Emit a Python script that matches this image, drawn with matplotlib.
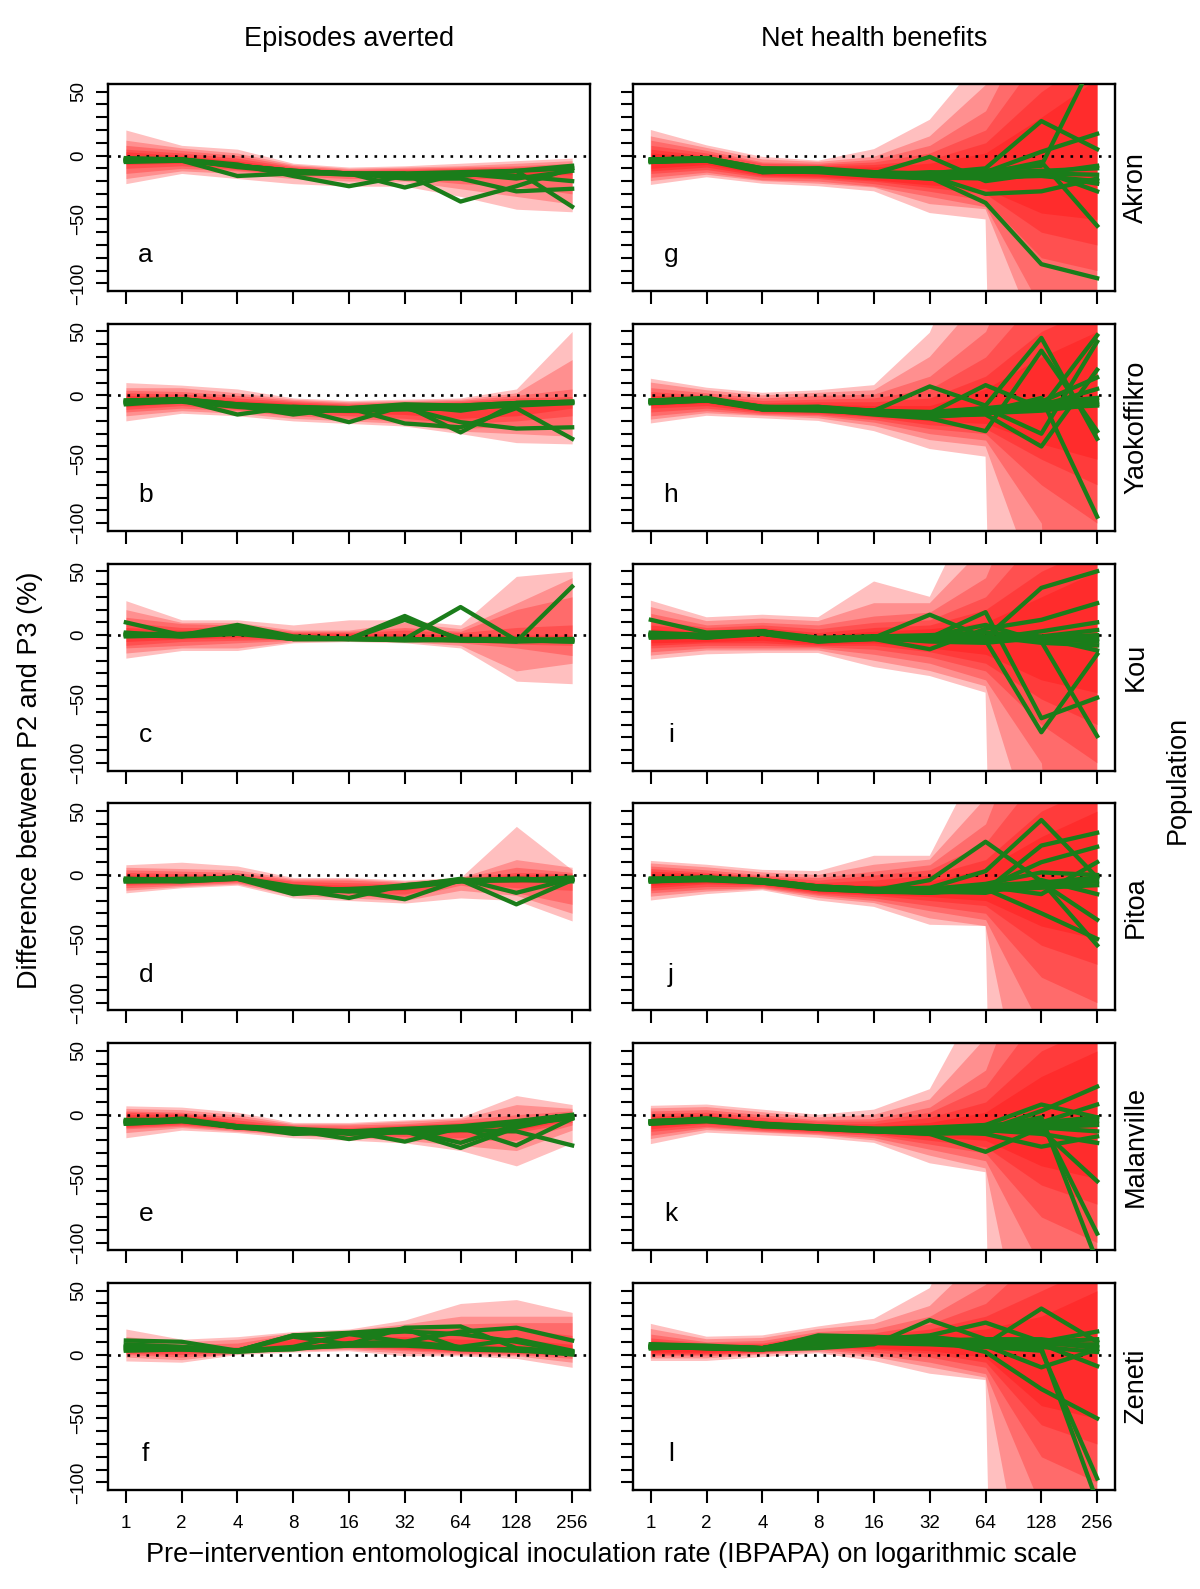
import numpy as np
from matplotlib import pyplot as plt
from matplotlib.ticker import NullLocator

plt.rcParams['font.family'] = ['Liberation Sans', 'DejaVu Sans']

# pre-intervention EIR (x axis, log2 scale)
eir = [1, 2, 4, 8, 16, 32, 64, 128, 256]

populations = ['Akron', 'Yaokoffikro', 'Kou', 'Pitoa', 'Malanville', 'Zeneti']
col_titles = ['Episodes averted', 'Net health benefits']
letters_left = ['a', 'b', 'c', 'd', 'e', 'f']
letters_right = ['g', 'h', 'i', 'j', 'k', 'l']

# ---- left column: episodes averted ----
# green lines (one per scenario)
lines_a = [[-3, -3, -8, -12, -14, -14, -13, -12, -10],
           [-5, -4, -16, -14, -14, -16, -16, -12, -8],
           [-4, -3, -7, -16, -24, -16, -14, -16, -20],
           [-2, -3, -8, -12, -14, -25, -14, -18, -12],
           [-4, -4, -8, -12, -14, -14, -36, -24, -10],
           [-3, -4, -8, -12, -14, -18, -18, -28, -26],
           [-4, -3, -9, -13, -15, -15, -14, -12, -40]]
# red uncertainty polygons (lower / upper), widest first
lo_a = [[-22, -14, -18, -22, -24, -24, -32, -42, -44],
        [-18, -12, -14, -18, -20, -20, -26, -32, -38],
        [-14, -10, -12, -16, -18, -18, -22, -24, -30],
        [-10, -8, -11, -15, -16, -17, -18, -18, -20],
        [-7, -6, -10, -14, -15, -16, -16, -15, -15]]
hi_a = [[20, 8, 5, -6, -9, -8, -6, -4, -2],
        [12, 6, 2, -7, -10, -9, -8, -6, -4],
        [8, 4, 0, -8, -11, -10, -9, -8, -6],
        [5, 2, -2, -9, -12, -11, -10, -9, -7],
        [3, 0, -4, -10, -13, -12, -11, -10, -8]]

lines_b = [[-5, -3, -7, -9, -10, -7, -8, -6, -5],
           [-7, -4, -15, -9, -11, -8, -8, -6, -6],
           [-4, -3, -8, -15, -10, -8, -12, -6, -5],
           [-6, -4, -8, -10, -21, -8, -29, -6, -5],
           [-5, -3, -8, -11, -10, -22, -25, -10, -34],
           [-4, -3, -7, -10, -12, -10, -21, -26, -25],
           [-6, -5, -9, -12, -12, -11, -10, -8, -6]]
lo_b = [[-20, -14, -16, -20, -22, -24, -30, -37, -38],
        [-16, -12, -14, -18, -20, -22, -28, -30, -32],
        [-13, -10, -12, -16, -18, -20, -26, -24, -25],
        [-11, -8, -11, -14, -16, -18, -22, -20, -16],
        [-9, -6, -10, -12, -14, -15, -18, -16, -10]]
hi_b = [[10, 8, 5, -2, -4, -3, -2, 5, 50],
        [6, 6, 2, -3, -5, -4, -3, 2, 28],
        [4, 3, 0, -4, -6, -5, -4, 0, 5],
        [2, 1, -2, -5, -7, -6, -5, -2, -1],
        [0, -1, -4, -6, -8, -7, -6, -4, -3]]

lines_c = [[0, 0, 2, -3, -3, -3, -4, -4, -4],
           [10, 0, 8, -1, -3, -4, -4, -4, -5],
           [2, -1, 5, -2, -3, 15, -4, -4, -3],
           [1, 0, 3, -3, -3, 12, -3, -5, -4],
           [0, -1, 1, -3, -3, -3, 22, -4, -5],
           [-1, 0, 2, -2, -3, -3, -4, -5, 38],
           [1, 1, 3, -3, -3, -4, -3, -3, -4]]
lo_c = [[-18, -12, -12, -6, -5, -6, -10, -36, -38],
        [-14, -10, -10, -5, -4, -5, -8, -28, -22],
        [-10, -8, -6, -4, -4, -4, -6, -10, -16],
        [-8, -5, -4, -3, -3, -4, -5, -7, -8],
        [-5, -3, -2, -2, -2, -3, -4, -5, -6]]
hi_c = [[27, 12, 12, 8, 12, 12, 8, 46, 50],
        [20, 10, 10, 4, 4, 10, 5, 25, 45],
        [14, 9, 8, 3, 3, 6, 3, 20, 30],
        [10, 6, 6, 2, 2, 4, 2, 6, 8],
        [6, 4, 4, 1, 1, 1, 0, 0, 0]]

lines_d = [[-4, -4, -2, -10, -12, -8, -4, -3, -4],
           [-5, -5, -3, -15, -12, -9, -4, -4, -3],
           [-3, -4, -2, -11, -18, -8, -5, -3, -4],
           [-4, -3, -3, -10, -12, -19, -4, -4, -5],
           [-5, -4, -2, -12, -11, -9, -3, -14, -3],
           [-3, -5, -3, -10, -13, -9, -4, -23, -4],
           [-4, -4, -2, -9, -12, -10, -5, -4, -2]]
lo_d = [[-14, -10, -8, -18, -20, -22, -18, -20, -36],
        [-12, -9, -7, -16, -18, -20, -12, -16, -30],
        [-10, -8, -6, -14, -16, -18, -8, -14, -23],
        [-8, -7, -5, -13, -14, -15, -6, -10, -12],
        [-7, -6, -4, -12, -13, -12, -5, -6, -6]]
hi_d = [[8, 10, 7, -2, -2, -4, -2, 38, 4],
        [6, 5, 4, -3, -3, -5, -2, 12, 6],
        [4, 3, 2, -4, -4, -6, -2, 6, 2],
        [2, 1, 0, -5, -6, -7, -3, 2, 1],
        [0, -1, -1, -7, -8, -8, -3, 0, 0]]

lines_e = [[-6, -4, -10, -12, -14, -12, -10, -6, -2],
           [-7, -5, -9, -15, -14, -13, -11, -7, -3],
           [-5, -4, -10, -12, -19, -12, -22, -8, -2],
           [-6, -3, -9, -13, -13, -21, -10, -24, -3],
           [-4, -4, -10, -11, -15, -13, -26, -10, -1],
           [-7, -5, -10, -12, -14, -14, -12, -13, -24],
           [-5, -4, -9, -11, -13, -11, -9, -5, 0]]
lo_e = [[-18, -12, -14, -18, -20, -22, -28, -40, -22],
        [-14, -10, -13, -16, -18, -20, -24, -28, -12],
        [-11, -9, -12, -15, -17, -19, -20, -20, -8],
        [-10, -8, -11, -14, -16, -17, -18, -14, -6],
        [-9, -7, -11, -13, -15, -15, -14, -12, -4]]
hi_e = [[7, 6, 2, -6, -6, -4, -2, 15, 8],
        [5, 4, 0, -7, -7, -5, -3, 8, 5],
        [3, 2, -2, -8, -8, -7, -4, 0, 3],
        [2, 1, -4, -9, -10, -8, -6, -3, 1],
        [0, 0, -6, -10, -11, -9, -7, -5, 0]]

lines_f = [[4, 4, 3, 5, 7, 8, 4, 3, 1],
           [11, 10, 3, 15, 17, 20, 5, 4, 1],
           [5, 5, 3, 14, 8, 21, 22, 5, 2],
           [6, 6, 3, 6, 16, 10, 18, 21, 11],
           [7, 5, 3, 4, 9, 10, 6, 12, 3],
           [3, 4, 2, 5, 7, 7, 5, 4, 0],
           [8, 6, 3, 15, 16, 18, 16, 10, 2]]
lo_f = [[-5, -6, 0, 2, 3, -1, -1, -3, -10],
        [-2, -4, 1, 3, 4, 1, 0, -1, -6],
        [0, -2, 1, 4, 5, 3, 1, 0, -3],
        [1, 0, 2, 5, 6, 4, 2, 1, -1],
        [2, 2, 2, 6, 7, 5, 3, 2, 0]]
hi_f = [[20, 12, 14, 18, 20, 27, 40, 43, 33],
        [14, 10, 12, 17, 19, 24, 30, 30, 30],
        [12, 8, 9, 16, 18, 22, 24, 25, 25],
        [10, 7, 6, 15, 17, 20, 20, 20, 15],
        [8, 6, 5, 12, 14, 14, 12, 12, 8]]

# ---- right column: net health benefits ----
lines_g = [[-4, -3, -12, -11, -14, -16, -15, -14, -15],
           [-3, -2, -10, -10, -13, -14, -13, -12, -10],
           [-5, -4, -13, -12, -15, -18, -17, -16, -20],
           [-4, -3, -11, -12, -14, -1, -20, -14, -8],
           [-3, -2, -10, -12, -14, -16, -12, -8, 80],
           [-5, -3, -12, -11, -15, -14, -10, 27, 5],
           [-4, -3, -12, -13, -16, -18, -13, 3, 17],
           [-4, -4, -11, -11, -14, -16, -30, -28, -18],
           [-3, -3, -12, -12, -14, -17, -37, -85, -96],
           [-5, -3, -12, -10, -15, -13, -14, -5, -55],
           [-4, -2, -13, -12, -13, -15, -16, -12, -28],
           [-4, -3, -11, -11, -14, -17, -18, -15, -22]]
lo_g = [[-23, -17, -22, -24, -28, -45, -50, -2000, -2000],
        [-20, -15, -20, -22, -25, -38, -42, -150, -2000],
        [-17, -13, -19, -20, -24, -32, -40, -120, -1000],
        [-14, -11, -17, -18, -22, -28, -35, -80, -90],
        [-12, -9, -16, -17, -20, -25, -30, -60, -70],
        [-10, -7, -15, -16, -19, -23, -26, -45, -50]]
hi_g = [[20, 8, -1, -4, 5, 28, 80, 300, 300],
        [15, 6, -3, -5, -1, 15, 55, 200, 300],
        [12, 4, -5, -6, -3, 8, 35, 120, 200],
        [8, 2, -6, -7, -5, 2, 20, 80, 120],
        [5, 0, -8, -8, -7, -3, 10, 50, 80],
        [2, -1, -9, -9, -9, -6, 2, 30, 60]]

lines_h = [[-5, -3, -10, -10, -13, -15, -12, -8, -5],
           [-4, -2, -9, -9, -12, -13, -10, -6, -2],
           [-6, -4, -11, -11, -14, -16, -14, -10, -8],
           [-5, -3, -10, -10, -12, 7, -8, 45, -34],
           [-5, -2, -11, -10, -13, -14, 8, -10, 47],
           [-4, -3, -9, -11, -15, -18, -28, 35, -28],
           [-6, -3, -10, -9, -13, -14, -10, -30, 42],
           [-5, -4, -10, -10, -12, -16, -15, -40, 20],
           [-4, -3, -11, -12, -14, -15, -12, -5, 14],
           [-5, -3, -10, -10, -13, -15, -13, -2, -95],
           [-6, -4, -10, -11, -12, -14, -11, -8, 5],
           [-5, -3, -9, -10, -13, -17, -14, -12, -7]]
lo_h = [[-22, -16, -18, -20, -28, -42, -48, -2000, -2000],
        [-19, -14, -16, -18, -24, -35, -40, -160, -2000],
        [-16, -12, -15, -16, -21, -30, -35, -100, -800],
        [-13, -10, -14, -15, -19, -26, -30, -70, -100],
        [-10, -8, -13, -14, -17, -23, -26, -50, -70],
        [-8, -6, -12, -13, -16, -20, -22, -38, -50]]
hi_h = [[13, 6, 2, 4, 8, 49, 150, 400, 400],
        [10, 4, 0, 2, 4, 30, 80, 250, 300],
        [6, 2, -2, 0, 1, 15, 50, 150, 200],
        [3, 0, -4, -3, -2, 5, 30, 80, 100],
        [0, -1, -6, -5, -5, -2, 15, 50, 70],
        [-2, -2, -8, -7, -8, -8, 5, 30, 50]]

lines_i = [[0, -1, 2, -4, -2, -2, -2, -3, -3],
           [12, 2, 3, -2, -1, -3, -3, -2, 0],
           [1, 0, 3, -4, -2, 16, -2, 37, 50],
           [-1, -1, 2, -5, -3, -11, 5, 12, 25],
           [0, -2, 1, -4, -2, -2, 18, -65, -49],
           [1, 0, 2, -3, -1, -3, -4, -76, -15],
           [-1, -1, 3, -4, -2, -1, 8, -5, -79],
           [2, 0, 2, -4, -3, -4, -3, 3, 10],
           [0, -1, 1, -5, -2, -2, -1, -6, -8],
           [-2, -1, 2, -3, -2, -5, -6, -2, -12],
           [1, -2, 3, -4, -1, 0, 2, -1, 4],
           [0, 0, 2, -4, -3, -2, -3, -3, -5]]
lo_i = [[-19, -15, -14, -14, -25, -32, -45, -2000, -2000],
        [-16, -12, -12, -12, -20, -28, -40, -180, -2000],
        [-13, -10, -10, -10, -15, -22, -35, -100, -600],
        [-10, -8, -8, -9, -11, -17, -28, -70, -100],
        [-8, -6, -6, -8, -8, -13, -22, -50, -70],
        [-6, -5, -4, -7, -6, -10, -15, -35, -45]]
hi_i = [[27, 14, 16, 14, 42, 30, 120, 400, 400],
        [22, 11, 13, 11, 25, 25, 70, 250, 300],
        [17, 8, 10, 8, 15, 18, 45, 150, 200],
        [12, 6, 8, 5, 10, 12, 30, 80, 100],
        [8, 4, 6, 2, 6, 8, 20, 50, 70],
        [5, 2, 5, 0, 3, 5, 10, 30, 50]]

lines_j = [[-4, -3, -5, -10, -12, -12, -10, -8, -5],
           [-3, -2, -4, -9, -11, -11, -8, -6, -2],
           [-5, -4, -6, -11, -13, -14, -12, -10, -8],
           [-4, -3, -5, -10, -12, -4, 26, -5, -55],
           [-3, -3, -4, -9, -11, -10, 3, 43, -2],
           [-4, -2, -5, -11, -13, -13, -12, 23, 33],
           [-5, -3, -6, -10, -12, -14, -10, 10, 22],
           [-4, -4, -5, -10, -12, -11, -9, -15, 10],
           [-3, -3, -4, -9, -11, -12, -11, -30, -50],
           [-4, -3, -5, -11, -12, -12, -9, -6, -35],
           [-5, -3, -6, -10, -13, -13, -14, -4, -15],
           [-4, -2, -5, -10, -11, -11, -7, 2, 0]]
lo_j = [[-20, -15, -12, -20, -25, -39, -40, -2000, -2000],
        [-17, -13, -11, -18, -22, -34, -40, -250, -2000],
        [-14, -11, -10, -16, -20, -28, -35, -120, -800],
        [-12, -9, -9, -15, -18, -24, -30, -80, -100],
        [-10, -7, -8, -14, -16, -20, -24, -55, -70],
        [-8, -6, -7, -13, -15, -17, -20, -40, -50]]
hi_j = [[11, 8, 4, 3, 15, 15, 100, 400, 400],
        [9, 6, 2, 0, 8, 12, 60, 250, 300],
        [7, 4, 0, -2, 3, 8, 40, 150, 200],
        [5, 2, -1, -4, 0, 4, 25, 80, 100],
        [3, 1, -2, -6, -4, 0, 12, 50, 70],
        [1, 0, -3, -7, -8, -5, 5, 30, 50]]

lines_k = [[-6, -4, -8, -10, -12, -12, -10, -8, -5],
           [-5, -3, -7, -9, -11, -10, -8, -6, -2],
           [-7, -5, -9, -11, -13, -14, -13, -10, -8],
           [-6, -4, -8, -10, -12, -15, -29, -10, -13],
           [-5, -4, -7, -10, -11, -13, -8, 8, -2],
           [-6, -3, -8, -11, -13, -14, -12, 3, 22],
           [-7, -4, -9, -10, -12, -13, -15, -25, -17],
           [-5, -4, -8, -9, -12, -11, -9, -12, -52],
           [-6, -5, -8, -10, -13, -15, -14, -5, -93],
           [-5, -4, -7, -10, -12, -12, -11, -2, -115],
           [-6, -4, -8, -11, -12, -13, -10, -6, 8],
           [-6, -3, -8, -10, -11, -12, -12, -15, -22]]
lo_k = [[-23, -14, -16, -18, -22, -38, -45, -2000, -2000],
        [-19, -12, -14, -16, -20, -32, -42, -250, -2000],
        [-16, -10, -13, -15, -18, -27, -36, -120, -800],
        [-13, -9, -12, -14, -16, -23, -30, -80, -100],
        [-11, -7, -11, -13, -15, -20, -25, -55, -70],
        [-9, -6, -10, -12, -14, -17, -20, -40, -50]]
hi_k = [[7, 8, 4, 0, 4, 20, 100, 400, 400],
        [5, 6, 2, -2, 0, 12, 60, 250, 300],
        [3, 4, 0, -4, -3, 6, 35, 150, 200],
        [1, 2, -2, -5, -5, 2, 22, 80, 100],
        [-1, 0, -4, -7, -7, -2, 10, 50, 70],
        [-3, -2, -6, -8, -9, -6, 2, 30, 50]]

lines_l = [[6, 6, 5, 12, 10, 10, 8, 8, 8],
           [7, 5, 4, 15, 14, 12, 10, 10, 5],
           [5, 6, 5, 8, 9, 8, 6, 6, 2],
           [6, 5, 4, 5, 8, 27, 12, 10, 12],
           [8, 6, 5, 14, 12, 15, 25, 10, 18],
           [6, 5, 4, 12, 10, 10, 8, 36, 10],
           [5, 6, 5, 13, 11, 12, 2, -27, -50],
           [7, 6, 5, 10, 12, 10, 6, 3, -97],
           [6, 5, 4, 12, 10, 11, 10, 5, -115],
           [5, 6, 4, 14, 12, 14, 9, 8, -9],
           [8, 7, 5, 12, 11, 9, 7, -10, 4],
           [6, 6, 5, 11, 10, 11, 12, 12, 6]]
lo_l = [[-5, -5, -2, 1, -5, -15, -20, -2000, -2000],
        [-3, -3, 0, 2, -2, -10, -18, -250, -2000],
        [-1, -1, 1, 4, 0, -6, -15, -120, -800],
        [0, 0, 2, 5, 2, -2, -10, -80, -100],
        [1, 1, 2, 6, 4, 1, -6, -55, -70],
        [2, 2, 3, 7, 5, 3, -2, -40, -50]]
hi_l = [[24, 14, 15, 22, 28, 52, 150, 400, 400],
        [20, 12, 13, 20, 24, 38, 80, 250, 300],
        [16, 10, 11, 18, 20, 30, 55, 150, 200],
        [13, 9, 9, 16, 17, 24, 40, 80, 100],
        [11, 8, 8, 15, 15, 20, 30, 50, 70],
        [9, 7, 7, 14, 13, 16, 20, 30, 50]]

left_data = [(lines_a, lo_a, hi_a), (lines_b, lo_b, hi_b), (lines_c, lo_c, hi_c),
             (lines_d, lo_d, hi_d), (lines_e, lo_e, hi_e), (lines_f, lo_f, hi_f)]
right_data = [(lines_g, lo_g, hi_g), (lines_h, lo_h, hi_h), (lines_i, lo_i, hi_i),
              (lines_j, lo_j, hi_j), (lines_k, lo_k, hi_k), (lines_l, lo_l, hi_l)]

W, H = 1200, 1589
fig = plt.figure(figsize=(W / 100, H / 100), dpi=100)

col_x = [108, 633]
col_w = 482
row_h = 207
green = '#1a7d1a'

ytick_pos = list(range(-100, 51, 10))
ytick_lab = ['\u2212100' if v == -100 else '\u221250' if v == -50 else
             '0' if v == 0 else '50' if v == 50 else '' for v in ytick_pos]

for r in range(6):
    top = 84 + 239.8 * r
    for c in range(2):
        ax = fig.add_axes([col_x[c] / W, 1 - (top + row_h) / H, col_w / W, row_h / H])
        lines, lo, hi = (left_data if c == 0 else right_data)[r]

        for l, h in zip(lo, hi):
            ax.fill_between(eir, l, h, color='red', alpha=0.25, lw=0)
        ax.axhline(0, color='black', lw=1.9, ls=(0, (1, 2.6)), zorder=2)
        for ln in lines:
            ax.plot(eir, ln, color=green, lw=3.1, zorder=3)

        ax.set_xscale('log', base=2)
        ax.set_xlim(2 ** -0.32, 2 ** 8.32)
        ax.set_ylim(-106, 56)
        ax.set_xticks(eir)
        ax.xaxis.set_minor_locator(NullLocator())
        if r == 5:
            ax.set_xticklabels([str(v) for v in eir])
        else:
            ax.set_xticklabels([])
        ax.set_yticks(ytick_pos)
        if c == 0:
            ax.set_yticklabels(ytick_lab)
            plt.setp(ax.get_yticklabels(), rotation=90, va='center')
        else:
            ax.set_yticklabels([])
        ax.tick_params(axis='both', direction='out', length=9, width=1.5,
                       labelsize=13.5, colors='black')
        ax.tick_params(axis='x', pad=9)
        ax.tick_params(axis='y', pad=6)
        for s in ax.spines.values():
            s.set_linewidth(1.7)

        letter = (letters_left if c == 0 else letters_right)[r]
        ax.text(1.28, -78, letter, fontsize=19, ha='center', va='center')

        if c == 1:
            fig.text(1136 / W, 1 - (top + row_h / 2) / H, populations[r],
                     rotation=90, ha='center', va='center', fontsize=19.5)

fig.text(349 / W, 1 - 39 / H, col_titles[0], ha='center', va='center', fontsize=19.5)
fig.text(874 / W, 1 - 39 / H, col_titles[1], ha='center', va='center', fontsize=19.5)
fig.text(30 / W, 1 - 780 / H, 'Difference between P2 and P3 (%)', rotation=90,
         ha='center', va='center', fontsize=19.5)
fig.text(1178 / W, 1 - 780 / H, 'Population', rotation=90,
         ha='center', va='center', fontsize=19.5)
fig.text(612 / W, 1 - 1555 / H,
         'Pre\u2212intervention entomological inoculation rate (IBPAPA) on logarithmic scale',
         ha='center', va='center', fontsize=19.5)

fig.savefig('out.png', dpi=100)
